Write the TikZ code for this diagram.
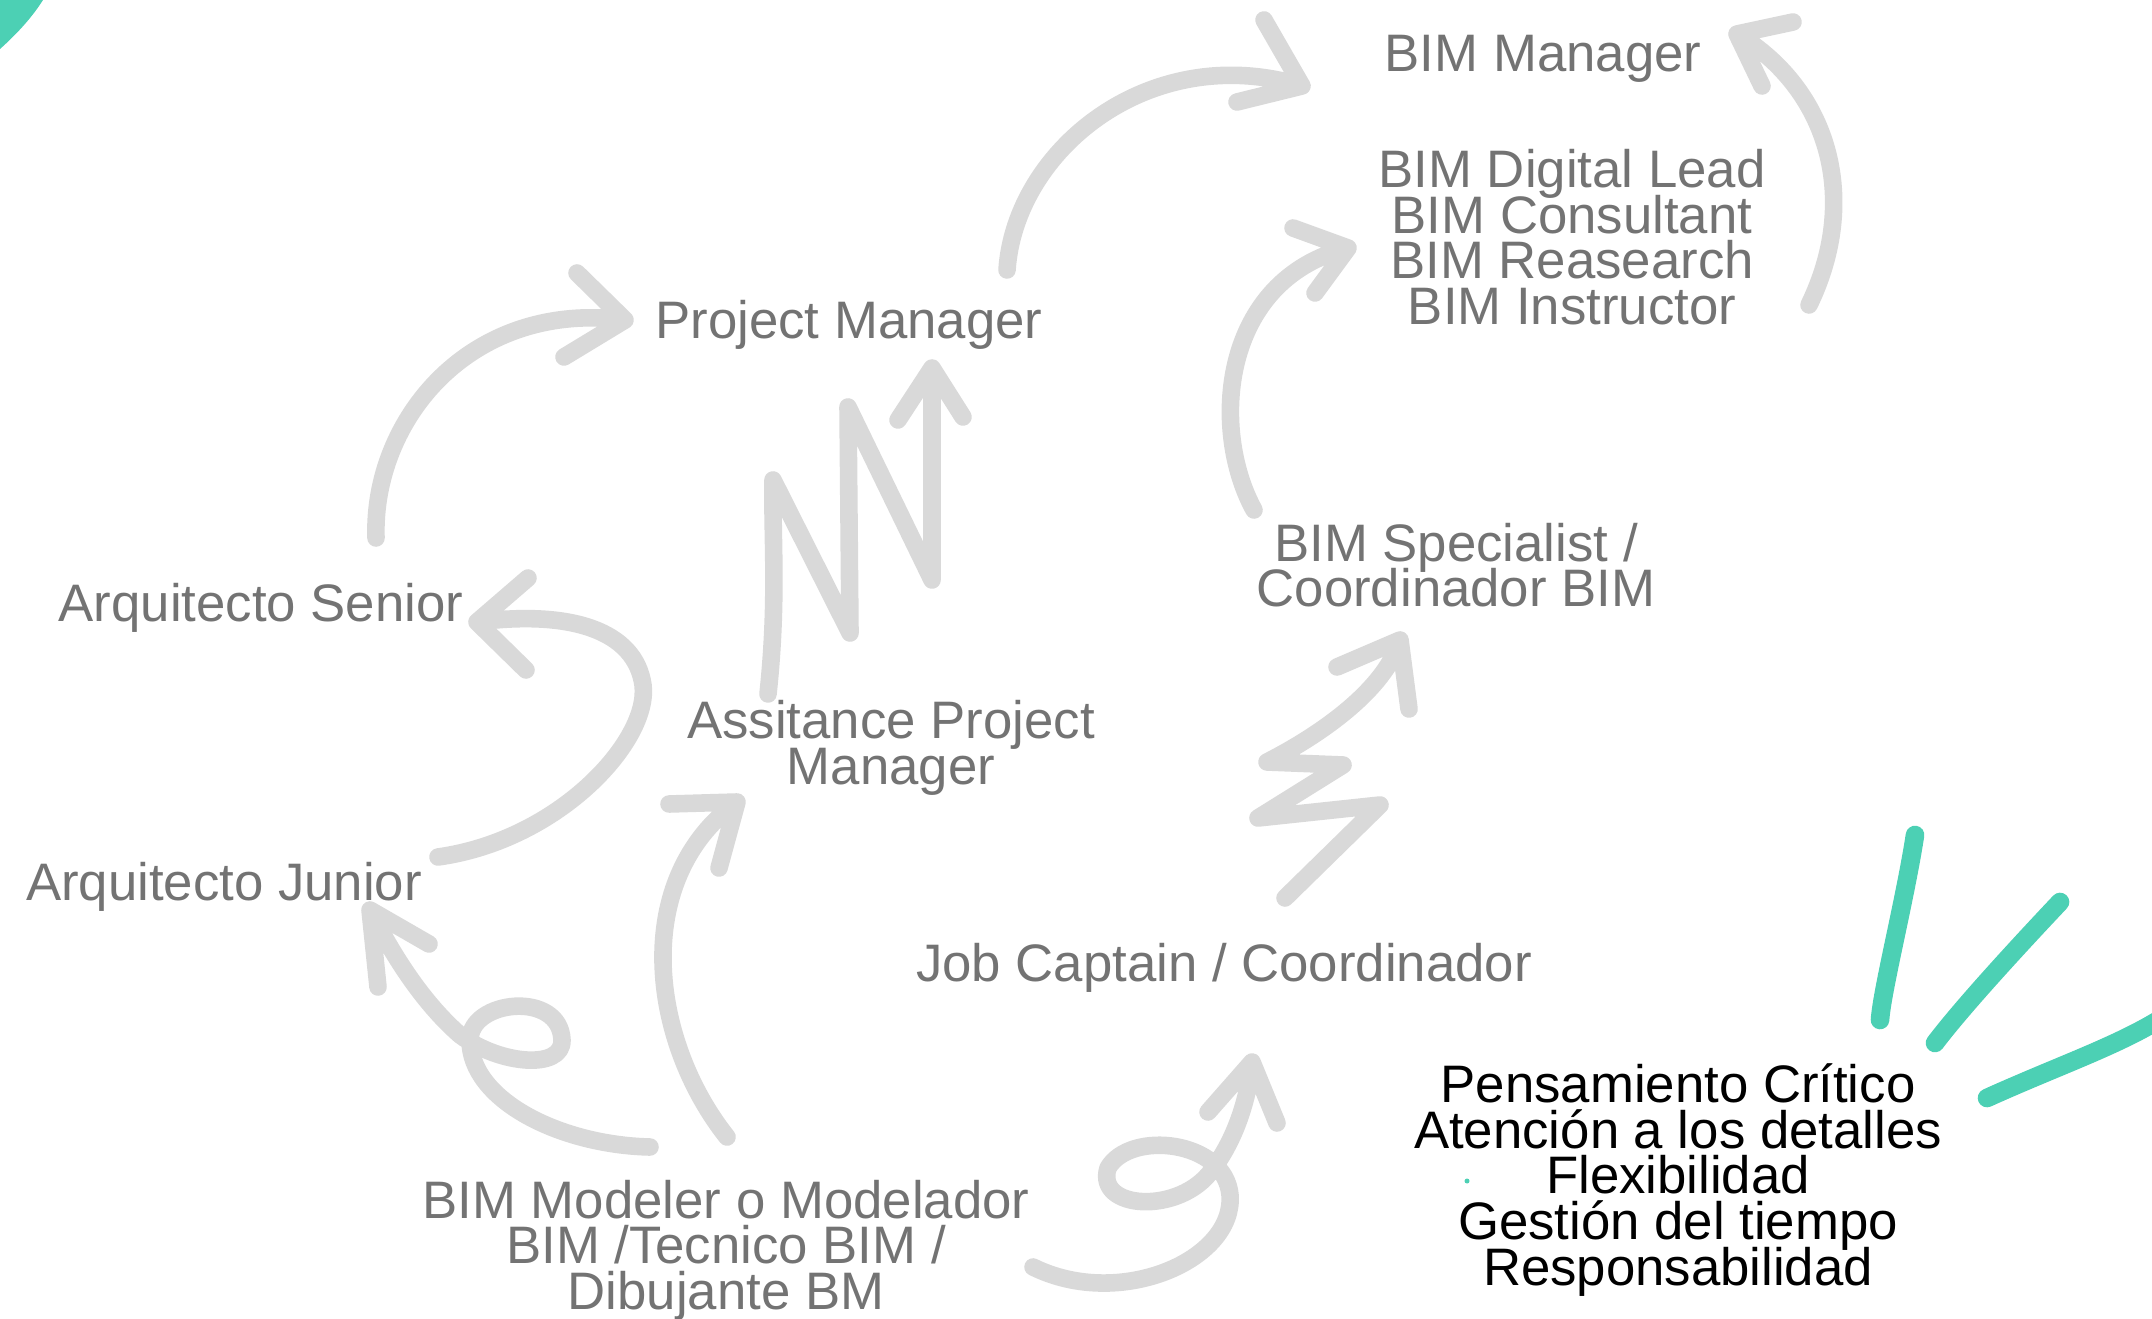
\documentclass[tikz,border=0pt]{standalone}
\usepackage{fontspec}
\setmainfont{Liberation Sans}
\usepackage{tikz}
\usetikzlibrary{arrows.meta,positioning,calc}
\definecolor{txtgray}{HTML}{737373}
\definecolor{arrgray}{HTML}{D9D9D9}
\definecolor{mint}{HTML}{4CD0B4}
\newcommand\rolefont{\fontsize{15}{12.95}\selectfont\lineskiplimit-100pt\relax}

\begin{document}
\begin{tikzpicture}[x=0.01cm,y=-0.01cm, % 1 = 1px
		role/.style={text=txtgray,font=\rolefont,align=center,inner sep=0pt},
		skill/.style={role,text=black},
		sketch/.style={draw=arrgray,line width=5pt,line cap=round,line join=round},
		swoosh/.style={draw=mint,line width=5.3pt,line cap=round}]
		\useasboundingbox (0,0) rectangle (2152,1319);
		% textos
		\node[role,anchor=base] (bimmgr) at (1543,72) {BIM Manager};
		\node[role] (digital) at (1572,237) {BIM Digital Lead\\BIM Consultant\\BIM Reasearch\\BIM Instructor};
		\node[role,anchor=base] (pm) at (849,339) {Project Manager};
		\node[role,anchor=base] (senior) at (261,621) {Arquitecto Senior};
		\node[role] (specialist) at (1456,565) {BIM Specialist /\\Coordinador BIM};
		\node[role] (apm) at (891,748) {Assitance Project\\Manager};
		\node[role,anchor=base] (junior) at (224,900) {Arquitecto Junior};
		\node[role,anchor=base] (jobcap) at (1224,981) {Job Captain / Coordinador};
		\node[role] (modeler) at (726,1250) {BIM Modeler o Modelador\\BIM /Tecnico BIM /\\Dibujante BM};
		\node[skill] (skills) at (1678,1180) {Pensamiento Crítico\\Atención a los detalles\\Flexibilidad\\Gestión del tiempo\\Responsabilidad};
		% extremos de las flechas
		\coordinate (sen-out) at (376,538);
		\coordinate (pm-in) at (625,320);
		\coordinate (pm-out) at (1007,270);
		\coordinate (mgr-in) at (1302,86);
		\coordinate (apm-out) at (768,694);
		\coordinate (pm-in2) at (932,368);
		\coordinate (jun-out) at (438,857);
		\coordinate (sen-in) at (477,622);
		\coordinate (mod-out) at (650,1147);
		\coordinate (jun-in) at (370,910);
		\coordinate (mod-out2) at (727,1137);
		\coordinate (apm-in) at (737,802);
		\coordinate (job-out) at (1285,898);
		\coordinate (spec-in) at (1400,640);
		\coordinate (spec-out) at (1254,510);
		\coordinate (dig-in) at (1348,248);
		\coordinate (dig-out) at (1809,305);
		\coordinate (mgr-in2) at (1737,34);
		\coordinate (mod-out3) at (1033,1267);
		\coordinate (job-in) at (1252,1062);
		% flechas
		\draw[sketch] (sen-out) .. controls (372,420) and (470,300) .. (pm-in)
			(pm-in) ++(-48,-47) -- (pm-in) -- ++(-61,37);
		\draw[sketch] (pm-out) .. controls (1015,150) and (1150,40) .. (mgr-in)
			(mgr-in) ++(-38,-66) -- (mgr-in) -- ++(-65,16);
		\draw[sketch] (apm-out) .. controls (778,600) and (772,540) .. (773,480)
			-- (850,633) -- (848,407) -- (932,580) -- (pm-in2)
			(pm-in2) ++(-34,52) -- (pm-in2) -- ++(31,49);
		\draw[sketch] (jun-out) .. controls (560,840) and (650,740) .. (643,685)
			.. controls (635,630) and (570,610) .. (sen-in)
			(sen-in) ++(51,-44) -- (sen-in) -- ++(49,48);
		\draw[sketch] (mod-out) .. controls (560,1145) and (470,1100) .. (470,1040)
			.. controls (470,1000) and (560,990) .. (562,1040)
			.. controls (563,1070) and (500,1065) .. (460,1035)
			.. controls (420,1000) and (390,950) .. (jun-in)
			(jun-in) ++(8,77) -- (jun-in) -- ++(59,34);
		\draw[sketch] (mod-out2) .. controls (650,1040) and (630,880) .. (apm-in)
			(apm-in) ++(-68,2) -- (apm-in) -- ++(-18,66);
		\draw[sketch] (job-out) -- (1380,805) -- (1258,818) -- (1343,765) -- (1267,762)
			.. controls (1320,735) and (1385,690) .. (spec-in)
			(spec-in) ++(-63,27) -- (spec-in) -- ++(9,69);
		\draw[sketch] (spec-out) .. controls (1210,430) and (1220,280) .. (dig-in)
			(dig-in) ++(-55,-20) -- (dig-in) -- ++(-33,45);
		\draw[sketch] (dig-out) .. controls (1860,200) and (1830,90) .. (mgr-in2)
			(mgr-in2) ++(56,-12) -- (mgr-in2) -- ++(25,52);
		\draw[sketch] (mod-out3) .. controls (1120,1310) and (1235,1260) .. (1230,1195)
			.. controls (1225,1140) and (1130,1130) .. (1108,1168)
			.. controls (1095,1210) and (1180,1215) .. (1212,1170)
			.. controls (1235,1140) and (1248,1100) .. (job-in)
			(job-in) ++(-44,50) -- (job-in) -- ++(25,61);
		% adornos verdes
		\fill[mint] (0,0) -- (43,0) .. controls (33,16) and (18,33) .. (0,49) -- cycle;
		\draw[swoosh] (1915,835) .. controls (1905,900) and (1882,990) .. (1880,1020);
		\draw[swoosh] (2060,902) .. controls (2010,955) and (1960,1010) .. (1935,1043);
		\draw[swoosh] (1987,1098) .. controls (2060,1065) and (2120,1045) .. (2165,1016);
		\fill[mint] (1467,1181) circle (2.5);
	\end{tikzpicture}
\end{document}
